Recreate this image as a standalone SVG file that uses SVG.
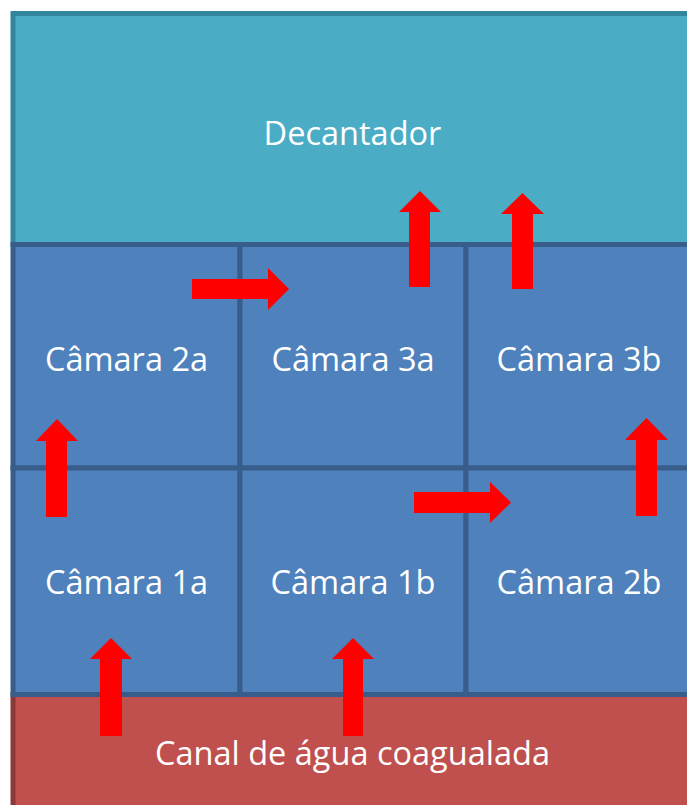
<svg xmlns="http://www.w3.org/2000/svg" width="687" height="805" viewBox="0 0 687 805">
<style>
.dec{fill:#4BACC6;stroke:#31859C;stroke-width:5}
.cell{fill:#4F81BD;stroke:#385D8A;stroke-width:5}
.canal{fill:#C0504D;stroke:#8C3836;stroke-width:5}
.lbl{font-family:"Open Sans","Noto Sans",sans-serif;font-size:32.5px;fill:#FFFFFF;text-anchor:middle}
.arr{fill:#FF0000}
</style>
<rect width="687" height="805" fill="#FFFFFF"/>
<g id="decantador">
<rect class="dec" x="13" y="13.5" width="690" height="231"/>
<text class="lbl" x="352.5" y="145">Decantador</text>
</g>
<g id="canal">
<rect class="canal" x="13" y="694.5" width="690" height="130"/>
<text class="lbl" x="352.5" y="765">Canal de água coagualada</text>
</g>
<g id="camara2a">
<rect class="cell" x="13" y="244.5" width="227" height="223.5"/>
<text class="lbl" x="126.5" y="371">Câmara 2a</text>
</g>
<g id="camara3a">
<rect class="cell" x="240" y="244.5" width="226" height="223.5"/>
<text class="lbl" x="353" y="371">Câmara 3a</text>
</g>
<g id="camara3b">
<rect class="cell" x="466" y="244.5" width="240" height="223.5"/>
<text class="lbl" x="579" y="371">Câmara 3b</text>
</g>
<g id="camara1a">
<rect class="cell" x="13" y="468" width="227" height="226.5"/>
<text class="lbl" x="126.5" y="594">Câmara 1a</text>
</g>
<g id="camara1b">
<rect class="cell" x="240" y="468" width="226" height="226.5"/>
<text class="lbl" x="353" y="594">Câmara 1b</text>
</g>
<g id="camara2b">
<rect class="cell" x="466" y="468" width="240" height="226.5"/>
<text class="lbl" x="579" y="594">Câmara 2b</text>
</g>
<g id="connectors">
<polygon class="arr" points="100,736 122,736 122,659 132,659 111,638 90,659 100,659"/>
<polygon class="arr" points="343,736 363,736 363,659 374,659 353,638 332,659 343,659"/>
<polygon class="arr" points="46,517 67,517 67,441 78,441 57,419 36,441 46,441"/>
<polygon class="arr" points="192,279 268,279 268,268 289,289 268,310 268,299 192,299"/>
<polygon class="arr" points="409,287 430,287 430,212 441,212 420,191 399,212 409,212"/>
<polygon class="arr" points="512,289 533,289 533,214 544,214 522.5,193 501,214 512,214"/>
<polygon class="arr" points="414,492 490,492 490,482 511,502.5 490,523 490,513 414,513"/>
<polygon class="arr" points="636,516 657,516 657,440 668,440 646.5,418 625,440 636,440"/>
</g>
</svg>
